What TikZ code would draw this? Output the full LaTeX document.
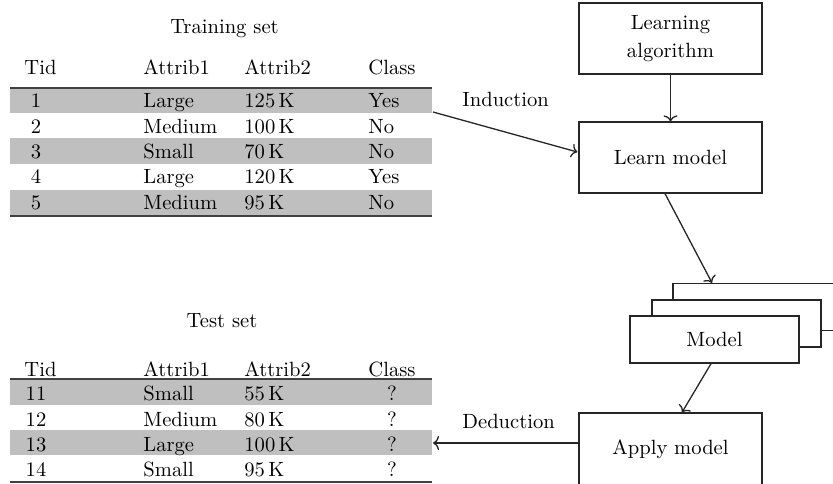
\documentclass[tikz,border=0pt]{standalone}
\usetikzlibrary{calc,arrows.meta}
\begin{document}
\begin{tikzpicture}[x=0.5pt,y=-0.5pt,
  every node/.append style={font=\fontsize{10.3}{12.5}\selectfont},
  txt/.style={inner sep=0pt, anchor=base west, text=black},
  ctxt/.style={inner sep=0pt, anchor=base, text=black},
  box/.style={draw=black!85, line width=0.65pt, fill=white, inner sep=0pt, align=center, text=black},
  bigbox/.style={box, minimum width=91.5pt, minimum height=35.5pt},
  mbox/.style={box, minimum width=84.5pt, minimum height=23.5pt},
  conn/.style={draw=black!85, line width=0.65pt, -{To[length=3pt,width=7pt]}},
  rowfill/.style={fill=black!25},
  rulel/.style={draw=black!75, line width=1pt}]
\useasboundingbox (0,0) rectangle (833,483);

% ---------- Training set ----------
\node[ctxt] (trtitle) at (224.5,33) {Training set};
\node[txt] (trh1) at (24,74) {Tid};
\node[txt] (trh2) at (143,74) {Attrib1};
\node[txt] (trh3) at (244,74) {Attrib2};
\node[txt] (trh4) at (368,74) {Class};
\fill[rowfill] (10,88) rectangle (432,113);
\fill[rowfill] (10,138) rectangle (432,164);
\fill[rowfill] (10,190) rectangle (432,215);
\draw[rulel] (10,88) -- (432,88);
\draw[rulel] (10,216) -- (432,216);
\foreach \id/\a/\b/\c/\y in {1/Large/125/Yes/107, 2/Medium/100/No/133, 3/Small/70/No/158, 4/Large/120/Yes/183, 5/Medium/95/No/209} {
  \node[ctxt] (tr\id id) at (36,\y) {\id};
  \node[txt] (tr\id a) at (143,\y) {\a};
  \node[txt] (tr\id b) at (244,\y) {\b\,K};
  \node[txt] (tr\id c) at (368,\y) {\c};
}

% ---------- Test set ----------
\node[ctxt] (tetitle) at (222,327) {Test set};
\node[txt] (teh1) at (24,376) {Tid};
\node[txt] (teh2) at (143,376) {Attrib1};
\node[txt] (teh3) at (244,376) {Attrib2};
\node[txt] (teh4) at (368,376) {Class};
\fill[rowfill] (10,379) rectangle (432,405);
\fill[rowfill] (10,430) rectangle (432,455);
\draw[rulel] (10,379) -- (432,379);
\draw[rulel] (10,482) -- (432,482);
\foreach \id/\a/\b/\y in {11/Small/55/400, 12/Medium/80/426, 13/Large/100/451, 14/Small/95/476} {
  \node[ctxt] (te\id id) at (36,\y) {\id};
  \node[txt] (te\id a) at (143,\y) {\a};
  \node[txt] (te\id b) at (244,\y) {\b\,K};
  \node[ctxt] (te\id c) at (392,\y) {?};
}

% ---------- Right side ----------
\node[bigbox] (alg) at (670.5,38.5) {\raisebox{-2pt}{\parbox{80pt}{\centering Learning\\[1.5pt]algorithm}}};
\node[bigbox] (learn) at (670.5,157.5) {Learn model};
\node[mbox] (back) at (757.5,307) {};
\node[mbox] (mid) at (736.5,323.5) {};
\node[mbox] (front) at (714.5,339.5) {Model};
\node[box, minimum width=91.5pt, minimum height=36pt] (apply) at (670.5,449) {Apply model};

\node[txt] (ind) at (462,106) {Induction};
\node[txt] (ded) at (462,428) {Deduction};

\coordinate (indsrc) at (433,112);
\coordinate (dedend) at (433,443);

\draw[conn] (alg) -- (learn);
\draw[conn] (indsrc) -- ($(learn.west)+(-1,-5.5)$);
\draw[conn] ($(learn.south)+(-5.5,0)$) -- ($(back.north)+(-45.5,0)$);
\draw[conn] ($(front.south)+(-3.5,0)$) -- ($(apply.north)+(11.5,0)$);
\draw[conn] ($(apply.west)+(0,-6)$) -- (dedend);
\end{tikzpicture}
\end{document}
